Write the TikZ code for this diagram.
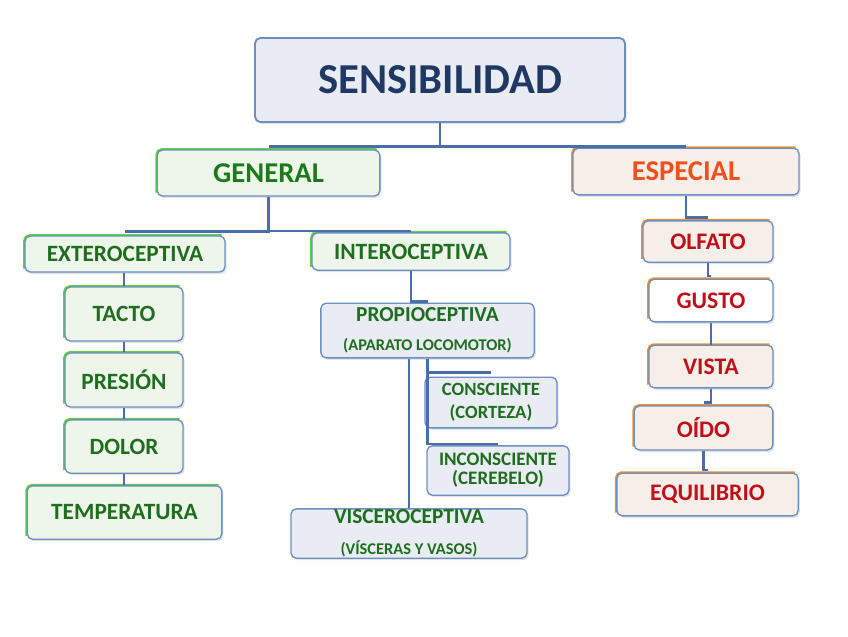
\documentclass[tikz,border=0pt]{standalone}
\usepackage{fontspec}
\setmainfont{Carlito}
\usetikzlibrary{shadows}
\definecolor{navytext}{HTML}{1F3864}
\definecolor{gentext}{HTML}{1C7A1C}
\definecolor{subtext}{HTML}{1E6E1E}
\definecolor{esptext}{HTML}{F0501E}
\definecolor{redtext}{HTML}{C0101A}
\definecolor{boxblue}{HTML}{6C8FC2}
\definecolor{linkblue}{HTML}{4A6FA8}
\definecolor{bluefill}{HTML}{E9ECF2}
\definecolor{genfill}{HTML}{EEF5EA}
\definecolor{espfill}{HTML}{F6EEE9}
\definecolor{accgreen}{HTML}{5FD23C}
\definecolor{accorange}{HTML}{F0902E}
\tikzset{
  box/.style={draw=boxblue, line width=1pt, rounded corners=4pt, inner sep=0pt,
    align=center, font=\bfseries,
    drop shadow={opacity=0.22, shadow xshift=1.2pt, shadow yshift=-1.5pt}},
  accent/.style={append after command={\pgfextra{
    \draw[draw=#1, line width=1.8pt, rounded corners=4pt]
      ([yshift=3pt]\tikzlastnode.south west) -- (\tikzlastnode.north west)
      -- ([xshift=-3pt]\tikzlastnode.north east);}}},
  genbox/.style={box, fill=genfill, text=subtext, accent=accgreen},
  espbox/.style={box, fill=espfill, text=redtext, accent=accorange},
  subbox/.style={box, fill=bluefill, text=subtext},
  link/.style={draw=linkblue, line width=2pt}
}
\begin{document}
\begin{tikzpicture}[x=0.75pt, y=-0.75pt]
  \useasboundingbox[fill=white] (0,0) rectangle (848,636);
  % top level
  \node[box, fill=bluefill, text=navytext, line width=1.4pt, minimum width=277.5pt, minimum height=63pt,
    font=\bfseries\fontsize{32}{38}\selectfont] (sens) at (440,80) {SENSIBILIDAD};
  \node[genbox, text=gentext, minimum width=167pt, minimum height=34.5pt,
    font=\bfseries\fontsize{21.5}{25}\selectfont] (gen) at (268.5,173) {GENERAL};
  \node[espbox, text=esptext, minimum width=169.5pt, minimum height=35pt,
    font=\bfseries\fontsize{21.5}{25}\selectfont] (esp) at (686,171.5) {ESPECIAL};
  % general branch
  \node[genbox, minimum width=150pt, minimum height=27pt, font=\bfseries\fontsize{17.5}{20}\selectfont]
    (ext) at (125,254) {EXTEROCEPTIVA};
  \node[genbox, minimum width=148.5pt, minimum height=28pt, font=\bfseries\fontsize{17.5}{20}\selectfont]
    (int) at (411,251.5) {INTEROCEPTIVA};
  \node[genbox, minimum width=88.5pt, minimum height=40.5pt, font=\bfseries\fontsize{17.5}{20}\selectfont]
    (tacto) at (124,314) {TACTO};
  \node[genbox, minimum width=88.5pt, minimum height=40.5pt, font=\bfseries\fontsize{17.5}{20}\selectfont]
    (presion) at (124,380) {PRESIÓN};
  \node[genbox, minimum width=88.5pt, minimum height=40pt, font=\bfseries\fontsize{17.5}{20}\selectfont]
    (dolor) at (124,446.5) {DOLOR};
  \node[genbox, minimum width=146pt, minimum height=40pt, font=\bfseries\fontsize{17.5}{20}\selectfont]
    (temp) at (124.5,512.5) {TEMPERATURA};
  % interoceptiva
  \node[subbox, minimum width=160pt, minimum height=41pt, font=\bfseries\fontsize{16}{22}\selectfont]
    (prop) at (427.5,330.5) {PROPIOCEPTIVA\\{\fontsize{12.3}{22}\selectfont (APARATO LOCOMOTOR)}};
  \node[subbox, minimum width=99pt, minimum height=38pt, font=\bfseries\fontsize{14}{17}\selectfont]
    (cons) at (491,402.5) {CONSCIENTE\\(CORTEZA)};
  \node[subbox, minimum width=106.5pt, minimum height=37pt, font=\bfseries\fontsize{14.3}{14.5}\selectfont]
    (incons) at (498,470.5) {INCONSCIENTE\\(CEREBELO)};
  \node[subbox, minimum width=177pt, minimum height=37pt, font=\bfseries\fontsize{16}{23}\selectfont]
    (visc) at (409,533.5) {VISCEROCEPTIVA\\{\fontsize{12.3}{23}\selectfont (VÍSCERAS Y VASOS)}};
  % especial branch
  \node[espbox, minimum width=97.5pt, minimum height=31pt, font=\bfseries\fontsize{17.8}{20}\selectfont]
    (olfato) at (708,241.5) {OLFATO};
  \node[espbox, fill=white, minimum width=93pt, minimum height=32pt, font=\bfseries\fontsize{17.8}{20}\selectfont]
    (gusto) at (711,300.5) {GUSTO};
  \node[espbox, minimum width=93pt, minimum height=32pt, font=\bfseries\fontsize{17.8}{20}\selectfont]
    (vista) at (711,366.5) {VISTA};
  \node[espbox, minimum width=104pt, minimum height=33pt, font=\bfseries\fontsize{17.8}{20}\selectfont]
    (oido) at (703.5,428) {OÍDO};
  \node[espbox, minimum width=136pt, minimum height=32pt, font=\bfseries\fontsize{17.8}{20}\selectfont]
    (equil) at (707.5,494.5) {EQUILIBRIO};
  % connectors
  \draw[link] (sens.south) |- ([yshift=2pt]gen.north);
  \draw[link] (sens.south) |- ([yshift=1pt]esp.north);
  \draw[link] (gen.south) |- ([yshift=3pt]ext.north);
  \draw[link] (gen.south) |- ([yshift=1pt]int.north);
  \draw[link] (tacto.north) -- (tacto.north |- ext.south);
  \draw[link] (presion.north) -- (tacto.south);
  \draw[link] (dolor.north) -- (presion.south);
  \draw[link] (temp.north -| dolor.south) -- (dolor.south);
  \draw[link] (int.south) |- ([yshift=1pt]prop.north);
  \draw[link] (prop.south) |- ([yshift=3pt]cons.north);
  \draw[link] (prop.south) |- ([yshift=1pt]incons.north);
  \draw[link] ([xshift=-14pt]prop.south) -- ([xshift=-14pt]prop.south |- visc.north);
  \draw[link] (esp.south) |- ([yshift=2pt]olfato.north);
  \draw[link] (olfato.south) |- ([yshift=2pt]gusto.north);
  \draw[link] (gusto.south) -- (vista.north);
  \draw[link] (vista.south) |- ([yshift=2pt]oido.north);
  \draw[link] (oido.south) |- ([yshift=2pt]equil.north);
\end{tikzpicture}
\end{document}
